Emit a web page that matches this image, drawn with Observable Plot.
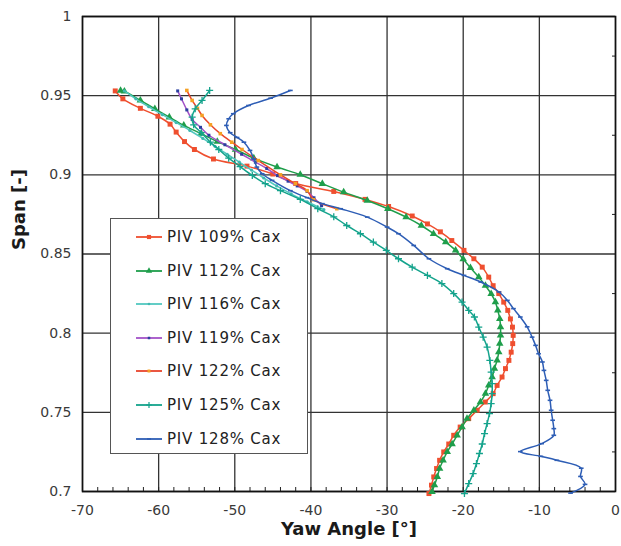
<!DOCTYPE html>
<html><head><meta charset="utf-8">
<script src="https://cdn.jsdelivr.net/npm/d3@7"></script>
<script src="https://cdn.jsdelivr.net/npm/@observablehq/plot@0.6"></script>
<style>
body{margin:0;background:#fff;}
#wrap{position:relative;width:621px;height:546px;font-family:"DejaVu Sans",sans-serif;}
#wrap svg{display:block;}
#legend{position:absolute;left:110px;top:218px;width:198px;height:236px;border:1.5px solid #555;background:#fff;box-sizing:border-box;}
.row{position:absolute;left:0;height:20px;display:flex;align-items:center;font-size:15px;letter-spacing:0.8px;color:#222;white-space:nowrap;}
.row svg{margin-left:25px;margin-right:5px;}
</style></head><body><div id="wrap"></div>
<script>
// [yaw angle (deg), span (-)]
const piv109 = [[-65.7,0.953],[-64.7,0.948],[-62.4,0.942],[-60.1,0.937],[-58.5,0.932],[-57.7,0.927],[-56.6,0.921],[-55.3,0.916],[-52.8,0.910],[-48.4,0.9055],[-45.0,0.9005],[-42.0,0.8945],[-37.0,0.8895],[-32.9,0.8845],[-29.8,0.880],[-26.7,0.874],[-24.7,0.869],[-23.0,0.864],[-21.5,0.8585],[-19.9,0.8523],[-18.6,0.847],[-17.5,0.8417],[-16.65,0.8354],[-16.07,0.830],[-15.33,0.825],[-14.68,0.8196],[-14.15,0.8144],[-13.8,0.809],[-13.53,0.8038],[-13.44,0.7986],[-13.5,0.7934],[-13.7,0.788],[-14.0,0.7828],[-14.45,0.7776],[-14.9,0.7723],[-15.55,0.767],[-16.07,0.7618],[-17.1,0.7565],[-18.17,0.7513],[-19.28,0.746],[-20.4,0.7407],[-21.25,0.7355],[-21.9,0.730],[-22.56,0.725],[-23.1,0.7197],[-23.5,0.7145],[-23.87,0.7092],[-24.17,0.704],[-24.5,0.6987]];
const piv112 = [[-65.0,0.9532],[-64.5,0.9528],[-62.4,0.947],[-60.5,0.9417],[-58.6,0.9364],[-56.7,0.9312],[-54.4,0.926],[-52.3,0.921],[-49.9,0.916],[-47.5,0.9105],[-44.45,0.9049],[-41.4,0.9001],[-38.5,0.8944],[-35.7,0.8891],[-32.6,0.8838],[-29.9,0.8786],[-27.5,0.8733],[-25.5,0.868],[-23.9,0.8628],[-22.3,0.8575],[-21.0,0.8523],[-20.0,0.8468],[-19.05,0.8413],[-17.96,0.8354],[-17.08,0.830],[-16.33,0.8249],[-15.77,0.8196],[-15.46,0.8144],[-15.2,0.809],[-15.1,0.8038],[-15.1,0.7986],[-15.2,0.7934],[-15.33,0.788],[-15.55,0.7828],[-15.9,0.7776],[-16.2,0.7723],[-16.65,0.767],[-17.08,0.7618],[-17.74,0.7565],[-18.6,0.7513],[-19.5,0.746],[-20.15,0.7407],[-20.8,0.7355],[-21.46,0.730],[-22.1,0.725],[-22.64,0.7197],[-23.1,0.7145],[-23.4,0.7092],[-23.78,0.704],[-24.1,0.6998]];
const piv116 = [[-64.5,0.953],[-63.0,0.948],[-61.3,0.943],[-59.5,0.938],[-57.7,0.933],[-55.9,0.928],[-54.2,0.923],[-52.6,0.918],[-51.0,0.913],[-49.4,0.908],[-47.8,0.903],[-46.2,0.898],[-44.5,0.893],[-42.6,0.888],[-40.5,0.883],[-38.3,0.878]];
const piv119 = [[-57.5,0.953],[-57.0,0.948],[-56.3,0.941],[-55.6,0.935],[-54.5,0.930],[-53.4,0.925],[-51.3,0.919],[-49.1,0.913],[-47.3,0.908],[-45.8,0.904],[-44.4,0.8995],[-43.0,0.896],[-41.8,0.893],[-40.5,0.8895],[-39.6,0.8855],[-38.6,0.8805]];
const piv122 = [[-56.3,0.9533],[-55.6,0.947],[-54.9,0.942],[-54.3,0.9375],[-53.2,0.9316],[-51.9,0.926],[-50.4,0.9206],[-49.05,0.916],[-46.9,0.909],[-44.0,0.900],[-42.05,0.8944],[-40.5,0.890],[-39.65,0.8843],[-36.6,0.8786]];
const piv125 = [[-53.3,0.9533],[-54.3,0.947],[-55.2,0.9417],[-55.6,0.9364],[-55.4,0.9316],[-54.4,0.9266],[-53.2,0.9206],[-52.1,0.916],[-50.8,0.9105],[-49.3,0.9052],[-47.7,0.8996],[-46.0,0.8944],[-44.0,0.890],[-41.4,0.8845],[-39.1,0.8786],[-37.0,0.8735],[-35.3,0.868],[-33.5,0.8628],[-31.8,0.8575],[-30.1,0.8523],[-28.5,0.847],[-26.7,0.8417],[-24.7,0.8365],[-22.8,0.8313],[-21.25,0.825],[-20.15,0.8196],[-19.28,0.8144],[-18.53,0.8102],[-17.96,0.8038],[-17.38,0.7975],[-16.86,0.7912],[-16.5,0.7828],[-16.33,0.7754],[-16.2,0.7681],[-16.2,0.7618],[-16.33,0.7555],[-16.55,0.7492],[-16.86,0.7429],[-17.2,0.7366],[-17.5,0.730],[-17.87,0.724],[-18.26,0.7176],[-18.7,0.7113],[-19.28,0.705],[-19.84,0.6987]];
const piv128 = [[-42.7,0.9533],[-45.3,0.9484],[-48.2,0.9438],[-50.2,0.9386],[-50.8,0.9354],[-51.1,0.9312],[-50.6,0.9266],[-49.7,0.9236],[-48.8,0.9206],[-48.0,0.9154],[-47.5,0.910],[-47.1,0.9049],[-46.4,0.9007],[-45.1,0.8965],[-42.7,0.890],[-40.5,0.8856],[-38.5,0.8818],[-36.1,0.8786],[-32.6,0.8733],[-30.0,0.867],[-28.5,0.8628],[-26.5,0.8554],[-24.5,0.847],[-22.1,0.8407],[-19.9,0.8365],[-17.7,0.8323],[-15.3,0.826],[-14.2,0.8207],[-13.4,0.8155],[-12.5,0.8102],[-11.6,0.804],[-10.95,0.7975],[-10.5,0.7923],[-10.1,0.787],[-9.6,0.7818],[-9.4,0.7765],[-9.1,0.7702],[-8.9,0.7639],[-8.6,0.7576],[-8.45,0.7513],[-8.25,0.745],[-8.1,0.7397],[-8.1,0.7355],[-9.7,0.7302],[-12.5,0.7252],[-9.8,0.7222],[-7.7,0.7197],[-4.5,0.7147],[-4.6,0.7095],[-4.0,0.7045],[-5.9,0.699]];

const seriesNames = ["PIV 109% Cax","PIV 112% Cax","PIV 116% Cax","PIV 119% Cax","PIV 122% Cax","PIV 125% Cax","PIV 128% Cax"];
const seriesData = [piv109, piv112, piv116, piv119, piv122, piv125, piv128];
const xTicks = [-70,-60,-50,-40,-30,-20,-10,0];
const yTicks = [0.7,0.75,0.8,0.85,0.9,0.95,1];
const xMinorTicks = d3.range(-70, 0.001, 2);
const yMinorTicks = [0.725,0.775,0.825,0.875,0.925,0.975];

const dash = {draw(ctx, size){const r=Math.sqrt(size/Math.PI); ctx.rect(-r*1.3,-0.8,r*2.6,1.6);}};
const styles = [
  {line:"#ef4f2f", mark:"#ef4f2f", symbol:"square", r:2.8, stroke:false},
  {line:"#1f9e4b", mark:"#1f9e4b", symbol:"triangle", r:2.8, stroke:false},
  {line:"#52c8c0", mark:"#3fb8b0", symbol:"circle", r:1.6, stroke:false},
  {line:"#a352c8", mark:"#2b3f9f", symbol:"square", r:1.7, stroke:false},
  {line:"#e8452c", mark:"#f5a023", symbol:"square", r:2.0, stroke:false},
  {line:"#14a38c", mark:"#14a38c", symbol:"plus", r:2.4, stroke:true},
  {line:"#2d5db5", mark:"#2d5db5", symbol:dash, r:1.8, stroke:false}
];

const marks = [
  Plot.gridX({ticks:xTicks, stroke:"#333", strokeOpacity:1, strokeWidth:1.3}),
  Plot.gridY({ticks:yTicks, stroke:"#333", strokeOpacity:1, strokeWidth:1.3}),
  Plot.axisX({ticks:xMinorTicks, tickSize:-4, tickFormat:()=>"", stroke:"#222", label:null}),
  Plot.axisY({anchor:"right", ticks:yMinorTicks, tickSize:-4, tickFormat:()=>"", stroke:"#222", label:null}),
  Plot.axisX({ticks:xTicks, tickSize:0, tickPadding:14, fontSize:14, fill:"#3a3a3a", tickFormat:d=>String(d), label:null}),
  Plot.axisY({ticks:yTicks, tickSize:0, tickPadding:11, fontSize:14, fill:"#3a3a3a", tickFormat:d=>String(d), label:null}),
  Plot.frame({stroke:"#111", strokeWidth:1.6})
];
seriesData.forEach((data, i) => {
  const s = styles[i];
  marks.push(Plot.line(data, {x:d=>d[0], y:d=>d[1], stroke:s.line, strokeWidth:1.5, curve:"catmull-rom"}));
  marks.push(Plot.dot(data, s.stroke
    ? {x:d=>d[0], y:d=>d[1], symbol:s.symbol, r:s.r, stroke:s.mark, strokeWidth:1.3}
    : {x:d=>d[0], y:d=>d[1], symbol:s.symbol, r:s.r, fill:s.mark, stroke:"none"}));
});
marks.push(Plot.text(["Yaw Angle [°]"], {frameAnchor:"bottom", dy:43, fontSize:18, fontWeight:"bold", fill:"#1a1a1a"}));
marks.push(Plot.text(["Span [-]"], {frameAnchor:"left", dx:-63, dy:-4, rotate:-90, fontSize:18, fontWeight:"bold", fill:"#1a1a1a"}));

const chart = Plot.plot({
  width:621, height:546,
  marginTop:16, marginLeft:82, marginRight:6, marginBottom:55,
  style:{fontFamily:"'DejaVu Sans', sans-serif", background:"#fff"},
  x:{domain:[-70,0]},
  y:{domain:[0.7,1]},
  marks
});
const wrap = document.getElementById("wrap");
wrap.appendChild(chart);

// legend box inside plot area
const legend = document.createElement("div");
legend.id = "legend";
const rowTops = [8, 41.6, 75.2, 108.8, 142.4, 176, 209.6];
seriesNames.forEach((name, i) => {
  const s = styles[i];
  const row = document.createElement("div");
  row.className = "row";
  row.style.top = rowTops[i] + "px";
  const sw = d3.create("svg").attr("width", 26).attr("height", 12);
  sw.append("line").attr("x1",0).attr("x2",26).attr("y1",6).attr("y2",6).attr("stroke", s.line).attr("stroke-width",1.8);
  const symType = typeof s.symbol === "string"
    ? {square:d3.symbolSquare, triangle:d3.symbolTriangle, circle:d3.symbolCircle, plus:d3.symbolPlus}[s.symbol]
    : s.symbol;
  const p = sw.append("path").attr("transform","translate(13,6)").attr("d", d3.symbol(symType, Math.PI*s.r*s.r*0.7)());
  if (s.stroke) p.attr("fill","none").attr("stroke",s.mark).attr("stroke-width",1.2); else p.attr("fill",s.mark);
  row.appendChild(sw.node());
  const t = document.createElement("span");
  t.textContent = name;
  row.appendChild(t);
  legend.appendChild(row);
});
wrap.appendChild(legend);
</script>
</body></html>
